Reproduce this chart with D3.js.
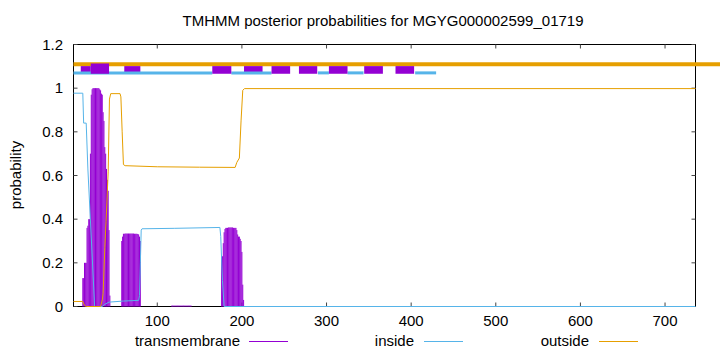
<!DOCTYPE html>
<html>
<head>
<meta charset="utf-8">
<script src="https://cdn.jsdelivr.net/npm/d3@7"></script>
<style>
  body { margin: 0; background: #fff; }
  svg { display: block; font-family: "Liberation Sans", Arial, sans-serif; }
</style>
</head>
<body>
<svg id="chart" width="720" height="352"></svg>
<script>
"use strict";

// Chart text
const title = "TMHMM posterior probabilities for MGYG000002599_01719";
const yLabel = "probability";
const seriesNames = ["transmembrane", "inside", "outside"];
const xTicks = [100, 200, 300, 400, 500, 600, 700];
const yTicks = [0, 0.2, 0.4, 0.6, 0.8, 1, 1.2];
const seqLength = 736;

// Transmembrane posterior, [residue, probability] (impulses, zero elsewhere)
const tmProb = [
    [12, 0.13], [13, 0.13], [14, 0.20], [15, 0.20], [16, 0.20], [17, 0.36],
    [18, 0.37], [19, 0.40], [20, 0.40], [21, 0.70], [22, 0.97], [23, 0.995],
    [24, 1.0], [25, 1.0], [26, 1.0], [27, 1.0], [28, 1.0], [29, 1.0],
    [30, 1.0], [31, 1.0], [32, 0.995], [33, 0.99], [34, 0.975], [35, 0.97],
    [36, 0.89], [37, 0.85], [38, 0.73], [39, 0.70], [40, 0.63], [41, 0.58],
    [42, 0.53], [43, 0.35], [44, 0.05],
    [58, 0.30], [59, 0.32], [60, 0.333], [61, 0.333], [62, 0.334], [63, 0.334],
    [64, 0.334], [65, 0.334], [66, 0.334], [67, 0.334], [68, 0.334], [69, 0.334],
    [70, 0.334], [71, 0.334], [72, 0.334], [73, 0.333], [74, 0.333], [75, 0.333],
    [76, 0.333], [77, 0.332], [78, 0.33], [79, 0.32], [80, 0.30],
    [117, 0.004], [118, 0.004], [119, 0.004], [120, 0.004], [121, 0.004],
    [122, 0.004], [123, 0.004], [124, 0.004], [125, 0.004], [126, 0.004],
    [127, 0.004], [128, 0.004], [129, 0.004], [130, 0.004], [131, 0.004],
    [132, 0.004], [133, 0.004], [134, 0.004], [135, 0.004], [136, 0.004],
    [137, 0.004], [138, 0.004], [139, 0.004], [140, 0.004],
    [176, 0.23], [177, 0.23], [178, 0.29], [179, 0.34], [180, 0.355],
    [181, 0.36], [182, 0.36], [183, 0.36], [184, 0.362], [185, 0.362],
    [186, 0.362], [187, 0.362], [188, 0.362], [189, 0.362], [190, 0.36],
    [191, 0.36], [192, 0.36], [193, 0.36], [194, 0.35], [195, 0.33],
    [196, 0.32], [197, 0.32], [198, 0.31], [199, 0.30], [200, 0.25],
    [201, 0.10], [202, 0.03]
];

// Inside posterior, breakpoints [residue, probability]
const insideProb = [
    [1, 0.977], [12, 0.977], [13, 0.84], [16, 0.84], [18, 0.63], [26, 0.0],
    [35, 0.0], [38, 0.01], [43, 0.02], [60, 0.025], [78, 0.028], [79, 0.05],
    [80, 0.2], [81, 0.35], [82, 0.356], [120, 0.358], [174, 0.362],
    [175, 0.32], [177, 0.12], [179, 0.0], [736, 0.0]
];

// Outside posterior, breakpoints [residue, probability]
const outsideProb = [
    [1, 0.023], [12, 0.023], [14, 0.005], [16, 0.0], [33, 0.0], [35, 0.03],
    [36, 0.06], [38, 0.27], [39.5, 0.39], [42, 0.62], [43.5, 0.95], [45, 0.975],
    [56, 0.975], [57, 0.96], [58.5, 0.80], [60, 0.65], [62, 0.645],
    [100, 0.64], [150, 0.638], [192, 0.637], [194, 0.66], [197, 0.68],
    [199, 0.85], [201, 0.99], [203, 0.998], [736, 0.998]
];

// Predicted topology bars across the top, [from, to] residues
const outsideBar = [[1, 765]];
const insideBar = [[1, 165], [187.5, 235], [289.8, 302.8], [324.8, 343.7], [404.7, 429.5]];
const tmBarUnder = [[9.6, 21.4], [61, 80], [202.5, 224.4]];
const tmBarOver = [[165, 187.5], [235, 257], [267.4, 289], [302.8, 324.8], [344.5, 366.6], [381.5, 403.5]];
const tmBarWide = [[21.4, 43]];

const colors = { tm: "#9400d3", inside: "#56b4e9", outside: "#e69f00" };

const svg = d3.select("#chart");
const x = d3.scaleLinear().domain([1, seqLength]).range([73.5, 695.5]);
const y = d3.scaleLinear().domain([0, 1.2]).range([306.5, 44.5]);

// Frame first, curves sit on top of it
svg.append("rect")
    .attr("x", x.range()[0]).attr("y", y.range()[1])
    .attr("width", x.range()[1] - x.range()[0])
    .attr("height", y.range()[0] - y.range()[1])
    .attr("fill", "none").attr("stroke", "#000").attr("stroke-width", 1);

// Ticks (inward, mirrored)
const tickLen = 4;
const ticks = svg.append("g").attr("stroke", "#444").attr("stroke-width", 1);
xTicks.forEach(t => {
    ticks.append("line").attr("x1", x(t)).attr("x2", x(t))
        .attr("y1", y.range()[0]).attr("y2", y.range()[0] - tickLen);
    ticks.append("line").attr("x1", x(t)).attr("x2", x(t))
        .attr("y1", y.range()[1]).attr("y2", y.range()[1] + tickLen);
});
yTicks.forEach(t => {
    ticks.append("line").attr("x1", x.range()[0]).attr("x2", x.range()[0] + tickLen)
        .attr("y1", y(t)).attr("y2", y(t));
    ticks.append("line").attr("x1", x.range()[1]).attr("x2", x.range()[1] - tickLen)
        .attr("y1", y(t)).attr("y2", y(t));
});

// Impulses for transmembrane
svg.append("g")
    .selectAll("line")
    .data(tmProb)
    .enter().append("line")
        .attr("x1", d => x(d[0]))
        .attr("x2", d => x(d[0]))
        .attr("y1", y(0))
        .attr("y2", d => y(d[1]))
        .attr("stroke", colors.tm)
        .attr("stroke-width", 1);

const line = d3.line().x(d => x(d[0])).y(d => y(d[1]));

svg.append("path")
    .attr("d", line(insideProb))
    .attr("fill", "none")
    .attr("stroke", colors.inside)
    .attr("stroke-width", 1);

svg.append("path")
    .attr("d", line(outsideProb))
    .attr("fill", "none")
    .attr("stroke", colors.outside)
    .attr("stroke-width", 1);

// Tick labels
svg.append("g").selectAll("text")
    .data(xTicks)
    .enter().append("text")
        .attr("x", d => x(d))
        .attr("y", 326)
        .attr("text-anchor", "middle")
        .attr("font-size", 15)
        .text(d => d);

svg.append("g").selectAll("text")
    .data(yTicks)
    .enter().append("text")
        .attr("x", 63)
        .attr("y", d => y(d) + 5)
        .attr("text-anchor", "end")
        .attr("font-size", 15)
        .text(d => d);

svg.append("text")
    .attr("transform", "translate(21,175) rotate(-90)")
    .attr("text-anchor", "middle")
    .attr("font-size", 15)
    .text(yLabel);

svg.append("text")
    .attr("x", 383).attr("y", 26)
    .attr("text-anchor", "middle")
    .attr("font-size", 15)
    .text(title);

// Topology bars
const band = svg.append("g");
const barLevels = { outside: 1.11, inside: 1.07 };

band.selectAll("line.out")
    .data(outsideBar)
    .enter().append("line")
        .attr("x1", d => x(d[0])).attr("x2", d => Math.min(x(d[1]), 720))
        .attr("y1", y(barLevels.outside)).attr("y2", y(barLevels.outside))
        .attr("stroke", colors.outside).attr("stroke-width", 4);

function tmRects(data, top, bottom) {
    band.append("g").selectAll("rect")
        .data(data)
        .enter().append("rect")
            .attr("x", d => x(d[0]))
            .attr("width", d => x(d[1]) - x(d[0]))
            .attr("y", y(top))
            .attr("height", y(bottom) - y(top))
            .attr("fill", colors.tm);
}

tmRects(tmBarUnder, 1.101, 1.066);

band.append("g").selectAll("line")
    .data(insideBar)
    .enter().append("line")
        .attr("x1", d => x(d[0])).attr("x2", d => x(d[1]))
        .attr("y1", y(barLevels.inside)).attr("y2", y(barLevels.inside))
        .attr("stroke", colors.inside).attr("stroke-width", 3);

tmRects(tmBarOver, 1.101, 1.066);
tmRects(tmBarWide, 1.113, 1.066);

// Legend
const legendItems = [
    { name: seriesNames[0], color: colors.tm, textEnd: 240, lineStart: 249 },
    { name: seriesNames[1], color: colors.inside, textEnd: 414, lineStart: 424 },
    { name: seriesNames[2], color: colors.outside, textEnd: 589, lineStart: 599 }
];
const legend = svg.append("g");
legendItems.forEach(it => {
    legend.append("text")
        .attr("x", it.textEnd).attr("y", 346)
        .attr("text-anchor", "end")
        .attr("font-size", 15)
        .text(it.name);
    legend.append("line")
        .attr("x1", it.lineStart).attr("x2", it.lineStart + 39)
        .attr("y1", 341.5).attr("y2", 341.5)
        .attr("stroke", it.color).attr("stroke-width", 1);
});
</script>
</body>
</html>
